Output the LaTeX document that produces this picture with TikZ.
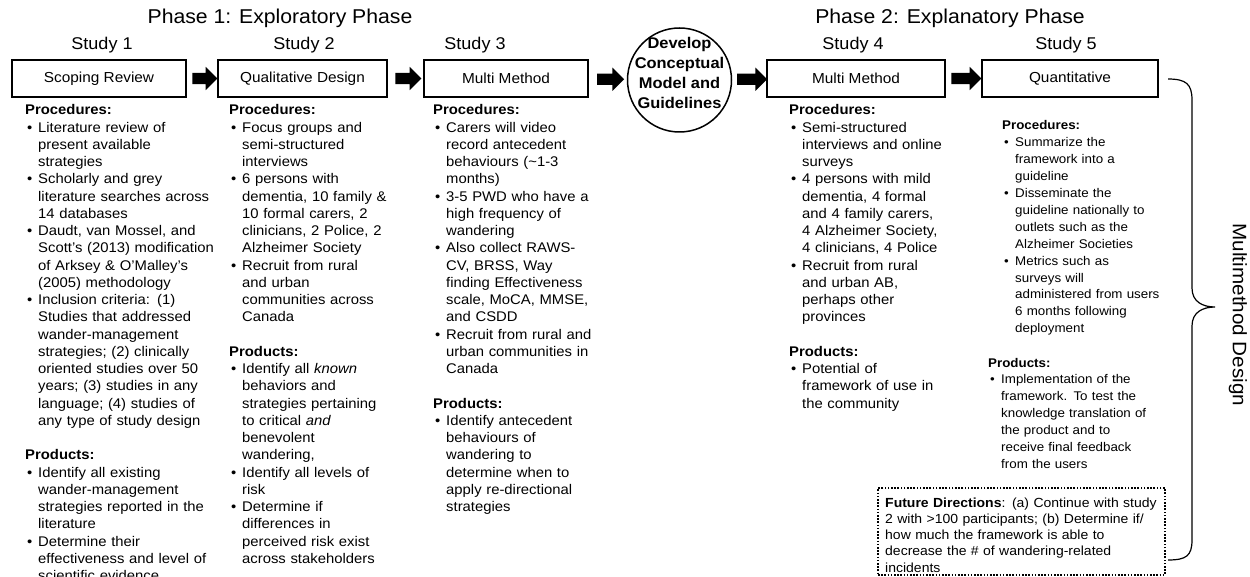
\documentclass[tikz,border=0pt]{standalone}
\usepackage{fontspec}
\setmainfont{Liberation Sans}[FakeStretch=1.06]
\usetikzlibrary{shapes.geometric,shapes.arrows,calc}
\newcommand\bitem[1]{\par\noindent\hangindent=13pt\hangafter=1\makebox[13pt][l]{\hspace{2pt}\textbullet}#1\par}
\newcommand\sect[1]{\par\vspace{\baselineskip}\noindent\textbf{#1}}
\tikzset{
  stage/.style={draw, line width=1.5pt, minimum height=37pt, inner sep=0pt, font=\fontsize{14.5}{17}\selectfont},
  blockarr/.style={single arrow, fill=black, draw=none, inner xsep=0pt, inner ysep=5.5pt, single arrow head extend=6pt},
  studylbl/.style={font=\fontsize{17}{20}\selectfont, anchor=base, inner sep=0pt},
  phase/.style={font=\fontsize{20}{24}\selectfont, anchor=base, inner sep=0pt},
  body/.style={anchor=base west, inner sep=0pt, text width=320pt, font=\fontsize{14}{17.25}\selectfont},
  bodysmall/.style={body, font=\fontsize{12.6}{16.9}\selectfont},
  brace/.style={line width=1.2pt},
  dotbox/.style={draw, line width=1.6pt, dash pattern=on 1.6pt off 1.6pt, inner sep=0pt},
}
\begin{document}
\begin{tikzpicture}[x=1pt,y=-1pt]
\fill[white] (0,0) rectangle (1250,577);
\useasboundingbox (0,0) rectangle (1250,577);

% phase titles
\node[phase] (ph1) at (280,24) {Phase 1: Exploratory Phase};
\node[phase] (ph2) at (950,24) {Phase 2: Explanatory Phase};

% study labels
\node[studylbl] (s1) at (102,49.5) {Study 1};
\node[studylbl] (s2) at (304,49.5) {Study 2};
\node[studylbl] (s3) at (475,49.5) {Study 3};
\node[studylbl] (s4) at (853,49.5) {Study 4};
\node[studylbl] (s5) at (1066,49.5) {Study 5};

% boxes
\node[stage, minimum width=174pt] (b1) at (99,78.5) {Scoping Review};
\node[stage, minimum width=169pt] (b2) at (302.5,78.5) {Qualitative Design};
\node[stage, minimum width=164pt] (b3) at (506,78.5) {Multi Method};
\node[ellipse, draw, line width=1.5pt, minimum width=104pt, minimum height=104pt, inner sep=0pt] (dev) at (679.5,80) {};
\node[font=\bfseries\fontsize{15.5}{19.7}\selectfont, align=center, inner sep=0pt] (devt) at (679.5,73) {Develop\\Conceptual\\Model and\\Guidelines};
\node[stage, minimum width=178pt] (b4) at (856,78.5) {Multi Method};
\node[stage, minimum width=176pt] (b5) at (1070,78.5) {Quantitative};

% block arrows
\node[blockarr, minimum height=25pt] (a1) at ($(b1.east)!0.5!(b2.west)$) {};
\node[blockarr, minimum height=26pt] (a2) at ($(b2.east)!0.5!(b3.west)$) {};
\node[blockarr, minimum height=27pt] (a3) at ($(b3.east)!0.5!(dev.west)$) {};
\node[blockarr, minimum height=30pt] (a4) at ($(dev.east)!0.5!(b4.west)$) {};
\node[blockarr, minimum height=30pt] (a5) at ($(b4.east)!0.5!(b5.west)$) {};

% column 1
\node[body] (c1) at (25,115) {\textbf{Procedures:}
\bitem{Literature review of\newline present available\newline strategies}
\bitem{Scholarly and grey\newline literature searches across\newline 14 databases}
\bitem{Daudt, van Mossel, and\newline Scott’s (2013) modification\newline of Arksey \& O’Malley’s\newline (2005) methodology}
\bitem{Inclusion criteria: (1)\newline Studies that addressed\newline wander-management\newline strategies; (2) clinically\newline oriented studies over 50\newline years; (3) studies in any\newline language; (4) studies of\newline any type of study design}
\sect{Products:}
\bitem{Identify all existing\newline wander-management\newline strategies reported in the\newline literature}
\bitem{Determine their\newline effectiveness and level of\newline scientific evidence}};

% column 2
\node[body] (c2) at (229,115) {\textbf{Procedures:}
\bitem{Focus groups and\newline semi-structured\newline interviews}
\bitem{6 persons with\newline dementia, 10 family \&\newline 10 formal carers, 2\newline clinicians, 2 Police, 2\newline Alzheimer Society}
\bitem{Recruit from rural\newline and urban\newline communities across\newline Canada}
\sect{Products:}
\bitem{Identify all \textit{known}\newline behaviors and\newline strategies pertaining\newline to critical \textit{and}\newline benevolent\newline wandering,}
\bitem{Identify all levels of\newline risk}
\bitem{Determine if\newline differences in\newline perceived risk exist\newline across stakeholders}};

% column 3
\node[body] (c3) at (433,115) {\textbf{Procedures:}
\bitem{Carers will video\newline record antecedent\newline behaviours (\textasciitilde 1-3\newline months)}
\bitem{3-5 PWD who have a\newline high frequency of\newline wandering}
\bitem{Also collect RAWS-\newline CV, BRSS, Way\newline finding Effectiveness\newline scale, MoCA, MMSE,\newline and CSDD}
\bitem{Recruit from rural and\newline urban communities in\newline Canada}
\sect{Products:}
\bitem{Identify antecedent\newline behaviours of\newline wandering to\newline determine when to\newline apply re-directional\newline strategies}};

% column 4
\node[body] (c4) at (789,115) {\textbf{Procedures:}
\bitem{Semi-structured\newline interviews and online\newline surveys}
\bitem{4 persons with mild\newline dementia, 4 formal\newline and 4 family carers,\newline 4 Alzheimer Society,\newline 4 clinicians, 4 Police}
\bitem{Recruit from rural\newline and urban AB,\newline perhaps other\newline provinces}
\sect{Products:}
\bitem{Potential of\newline framework of use in\newline the community}};

% column 5
\node[bodysmall] (c5) at (1002,130) {\textbf{Procedures:}
\bitem{Summarize the\newline framework into a\newline guideline}
\bitem{Disseminate the\newline guideline nationally to\newline outlets such as the\newline Alzheimer Societies}
\bitem{Metrics such as\newline surveys will\newline administered from users\newline 6 months following\newline deployment}};
\node[bodysmall] (c5p) at (988,367) {\textbf{Products:}
\bitem{Implementation of the\newline framework. To test the\newline knowledge translation of\newline the product and to\newline receive final feedback\newline from the users}};

% future directions
\node[dotbox, minimum width=287pt, minimum height=87pt] (fut) at (1021.5,531.5) {};
\node[body, font=\fontsize{13.2}{16.3}\selectfont] (futt) at (885,507) {\textbf{Future Directions}: (a) Continue with study\newline 2 with >100 participants; (b) Determine if/\newline how much the framework is able to\newline decrease the \# of wandering-related\newline incidents};

% brace
\draw[brace] (1168,79) .. controls (1186,79) and (1192,84) .. (1192,100) -- (1192,288) .. controls (1192,302) and (1203,307) .. (1215,307) .. controls (1203,307) and (1192,312) .. (1192,326) -- (1192,540) .. controls (1192,556) and (1186,560) .. (1168,560);
\node[rotate=-90, font=\fontsize{19.5}{23}\selectfont, inner sep=0pt] (mm) at (1238,315) {Multimethod Design};
\end{tikzpicture}
\end{document}
